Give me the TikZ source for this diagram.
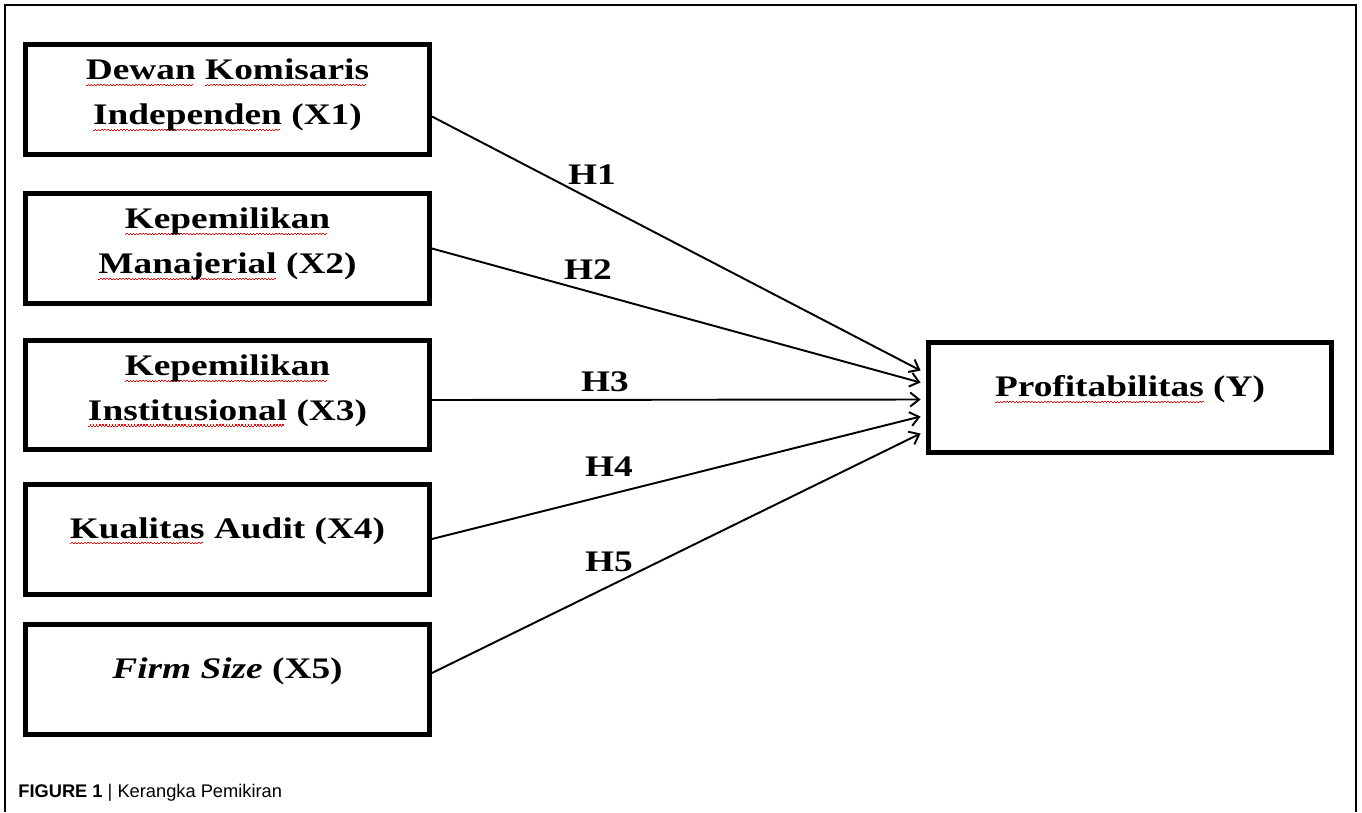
\documentclass[tikz,border=0pt]{standalone}
\usepackage{fontspec}
\usepackage{xcolor}
\setmainfont{Liberation Serif}
\newfontfamily\boxfont[FakeStretch=1.25]{Liberation Serif}
\newfontfamily\capfont{Liberation Sans}
\usetikzlibrary{arrows.meta}
\newsavebox{\typobox}
\newcommand{\typo}[1]{\sbox{\typobox}{#1}\rlap{\textcolor{red}{\leaders\hbox{\rule[-3.6pt]{0.9pt}{0.6pt}\rule[-3.0pt]{0.9pt}{0.6pt}}\hskip\wd\typobox}}\usebox{\typobox}}
\tikzset{
	varbox/.style={
			draw, line width=0.1cm, minimum width=8.08cm, minimum height=2.2cm,
			align=center, text depth=0.3cm,
			font=\boxfont\bfseries\fontsize{17}{25.5}\selectfont
		},
	hyp/.style={inner sep=0pt, font=\boxfont\bfseries\fontsize{17}{20}\selectfont},
	link/.style={line width=1.1pt, -{Straight Barb[length=5pt,width=8pt]}},
	frame/.style={line width=0.8pt}
}

\begin{document}
\begin{tikzpicture}[x=0.02cm, y=-0.02cm]
			\useasboundingbox (0, 0) rectangle (1362, 812);
			\draw[frame]	(5, 812) |- (1356, 5) -- (1356, 812);

			\node[varbox] (x1) at (227.5, 99.5)	{\typo{Dewan} \typo{Komisaris}\\\typo{Independen} (X1)};
			\node[varbox] (x2) at (227.5, 248.5)	{\typo{Kepemilikan}\\\typo{Manajerial} (X2)};
			\node[varbox] (x3) at (227.5, 395)	{\typo{Kepemilikan}\\\typo{Institusional} (X3)};
			\node[varbox, text depth=0.45cm] (x4) at (227.5, 539)	{\typo{Kualitas} Audit (X4)};
			\node[varbox, text depth=0.45cm] (x5) at (227.5, 679.5)	{\textit{Firm Size} (X5)};
			\node[varbox, text depth=0.45cm] (y) at (1130, 397.5)	{\typo{Profitabilitas} (Y)};

			\coordinate (in1) at ([shift={(-0.1cm, 0.54cm)}]y.west);
			\coordinate (in2) at ([shift={(-0.1cm, 0.30cm)}]y.west);
			\coordinate (in3) at ([shift={(-0.1cm, -0.04cm)}]y.west);
			\coordinate (in4) at ([shift={(-0.1cm, -0.38cm)}]y.west);
			\coordinate (in5) at ([shift={(-0.1cm, -0.72cm)}]y.west);

			\draw[link]	([yshift=-0.34cm]x1.east) to (in1);
			\draw[link]	(x2.east) to (in2);
			\draw[link]	([yshift=-0.1cm]x3.east) to (in3);
			\draw[link]	(x4.east) to (in4);
			\draw[link]	([yshift=0.13cm]x5.east) to (in5);

			\node[hyp] (h1) at (592, 175)	{H1};
			\node[hyp] (h2) at (588, 270)	{H2};
			\node[hyp] (h3) at (605, 382)	{H3};
			\node[hyp] (h4) at (609, 467)	{H4};
			\node[hyp] (h5) at (609, 562)	{H5};

			\node[anchor=base west, inner sep=0pt, font=\capfont\fontsize{10.4}{12}\selectfont] (cap) at (18, 797)
				{\textbf{FIGURE 1} | Kerangka Pemikiran};
		\end{tikzpicture}
\end{document}
